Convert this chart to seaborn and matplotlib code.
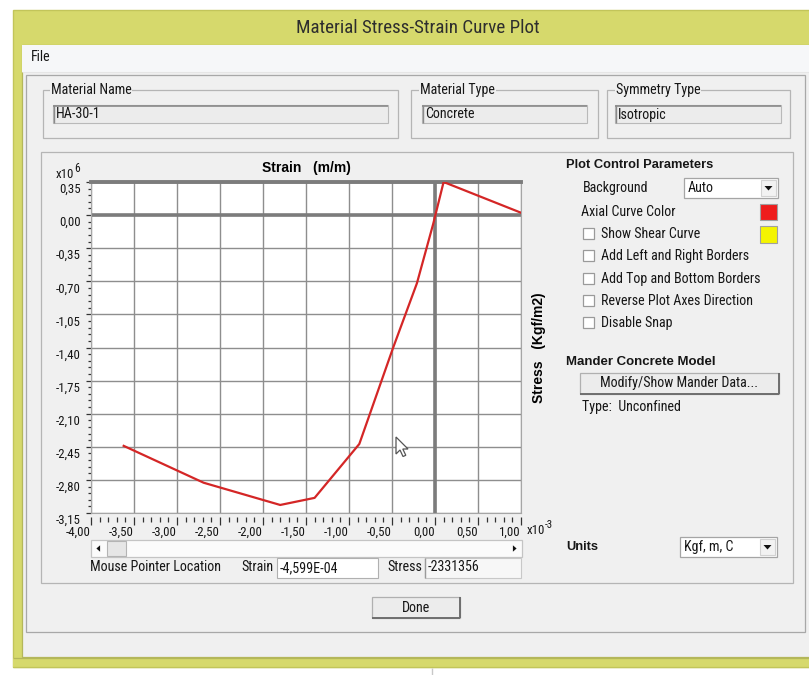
import matplotlib
matplotlib.use("Agg")
import matplotlib.pyplot as plt
import matplotlib.transforms as mtransforms
from matplotlib import font_manager as fm
from matplotlib.patches import Rectangle, Polygon
from matplotlib.ticker import MultipleLocator
import seaborn as sns
import pandas as pd

# ---------------- data (strain in 1e-3 m/m, stress in 1e6 Kgf/m2) ----------------
strain = [-3.62, -2.69, -1.80, -1.40, -0.88, -0.49, -0.21, -0.02, 0.10, 1.00]
stress = [-2.44, -2.83, -3.065, -2.99, -2.42, -1.41, -0.72, -0.09, 0.35, 0.025]
x_ticks = [-4.0, -3.5, -3.0, -2.5, -2.0, -1.5, -1.0, -0.5, 0.0, 0.5, 1.0]
x_tick_labels = ["-4,00", "-3,50", "-3,00", "-2,50", "-2,00", "-1,50", "-1,00",
                 "-0,50", "0,00", "0,50", "1,00"]
y_ticks = [0.35, 0.0, -0.35, -0.70, -1.05, -1.40, -1.75, -2.10, -2.45, -2.80, -3.15]
y_tick_labels = ["0,35", "0,00", "-0,35", "-0,70", "-1,05", "-1,40", "-1,75",
                 "-2,10", "-2,45", "-2,80", "-3,15"]
checkbox_labels = ["Show Shear Curve", "Add Left and Right Borders",
                   "Add Top and Bottom Borders", "Reverse Plot Axes Direction",
                   "Disable Snap"]

# ---------------- fonts: pick a narrow face if one is installed ----------------
_names = {f.name for f in fm.fontManager.ttflist}
if "Liberation Sans Narrow" in _names:
    NARROW, NS = ["Liberation Sans Narrow", "DejaVu Sans"], 1.0
elif "Roboto Condensed" in _names:
    NARROW, NS = ["Roboto Condensed", "DejaVu Sans"], 0.98
else:
    NARROW, NS = ["Liberation Sans", "DejaVu Sans"], 0.84
SANS = ["Liberation Sans", "DejaVu Sans"]

W, H = 809, 675
YEL = "#d6d96c"
CLIENT = "#f0f0f0"

fig = plt.figure(figsize=(W / 100, H / 100), dpi=100, facecolor="white")
bg = fig.add_axes([0, 0, 1, 1])
bg.set_xlim(0, W)
bg.set_ylim(H, 0)
bg.axis("off")


def rect(x0, y0, x1, y1, fc="none", ec="none", lw=1.0, z=1):
    bg.add_patch(Rectangle((x0, y0), x1 - x0, y1 - y0, facecolor=fc,
                           edgecolor=ec, linewidth=lw, zorder=z))


def line(xs, ys, c, lw=1.0, z=2):
    bg.plot(xs, ys, color=c, lw=lw, zorder=z, solid_capstyle="butt")


def txt(x, y, s, size=10.3, fam=None, weight="normal", ha="left", va="center",
        color="#161616", **kw):
    if fam is None:
        fam, size = NARROW, size * NS
    bg.text(x, y, s, fontsize=size, family=fam, fontweight=weight, ha=ha, va=va,
            color=color, zorder=5, **kw)


def tri(cx, cy, d, s=3.2):
    if d == "down":
        pts = [(cx - s, cy - s / 2), (cx + s, cy - s / 2), (cx, cy + s / 2 + 0.5)]
    elif d == "left":
        pts = [(cx + s / 2, cy - s), (cx + s / 2, cy + s), (cx - s / 2 - 0.5, cy)]
    else:
        pts = [(cx - s / 2, cy - s), (cx - s / 2, cy + s), (cx + s / 2 + 0.5, cy)]
    bg.add_patch(Polygon(pts, closed=True, facecolor="#111111", edgecolor="none", zorder=6))


def textbox(x0, y0, x1, y1, s, fc="#ececec"):
    rect(x0, y0, x1, y1, fc=fc, ec="#b9b9b9", lw=0.8, z=2)
    line([x0, x1], [y0 + 0.6, y0 + 0.6], "#8a8a8a", lw=1.2, z=3)
    line([x0 + 0.6, x0 + 0.6], [y0, y1], "#8a8a8a", lw=1.0, z=3)
    txt(x0 + 3, (y0 + y1) / 2 + 0.5, s)


def groupbox(x0, y0, x1, y1, label, lx):
    rect(x0, y0, x1, y1, ec="#b5b5b5", lw=0.9, z=2)
    txt(lx, y0, label, bbox=dict(facecolor=CLIENT, edgecolor="none", pad=0.5))


def button(x0, y0, x1, y1, s):
    rect(x0, y0, x1, y1, fc="#ececec", ec="#b0b0b0", lw=0.9, z=2)
    line([x0, x1], [y1, y1], "#6e6e6e", lw=1.4, z=3)
    line([x1, x1], [y0, y1], "#6e6e6e", lw=1.4, z=3)
    txt((x0 + x1) / 2, (y0 + y1) / 2, s, ha="center")


def combo(x0, y0, x1, y1, s):
    rect(x0, y0, x1, y1, fc="white", ec="#a5a5a5", lw=0.9, z=2)
    rect(x1 - 17, y0 + 2, x1 - 2, y1 - 2, fc="#f2f2f2", ec="#d2d2d2", lw=0.8, z=3)
    tri(x1 - 9.5, (y0 + y1) / 2, "down", s=4.0)
    txt(x0 + 4, (y0 + y1) / 2, s)


# ---------------- window chrome ----------------
rect(13, 10, W + 2, 667, fc=YEL, ec="#c2c55a", lw=1.0, z=0)
rect(22, 45, W + 2, 657, fc=CLIENT, ec="#b4b75a", lw=0.9, z=0.5)
rect(13.5, 657.5, W + 2, 666.5, fc=YEL, ec="none", z=0.7)
line([13, W], [657.5, 657.5], "#b4b75a", lw=0.9, z=0.8)
line([13, W], [666.8, 666.8], "#c2c55a", lw=0.9, z=0.8)
rect(22.5, 45, W + 2, 72, fc="#f6f7f9", z=0.6)
line([22, W], [72, 72], "#e6e6e6", lw=0.8)
line([432, 432], [667.5, 675], "#c8c8c8", lw=1.0)
txt(418, 28, "Material Stress-Strain Curve Plot", size=14, ha="center", color="#2e2e2e")
txt(31, 57, "File")

# sunken panel
rect(26, 75, 805, 632, ec="#a8a8a8", lw=0.9, z=1)

# material info group boxes
groupbox(43, 90, 398, 138, "Material Name", 51)
textbox(53, 105, 388, 123, "HA-30-1")
groupbox(411, 90, 598, 138, "Material Type", 420)
textbox(422, 105, 587, 123, "Concrete")
groupbox(607, 90, 790, 138, "Symmetry Type", 616)
textbox(615, 105, 781, 123, "Isotropic")

# plot group box
rect(41, 152, 793, 583, ec="#b5b5b5", lw=0.9, z=1)

# right control panel
txt(566, 165, "Plot Control Parameters", size=9.3, fam=SANS, weight="bold")
txt(583, 188, "Background")
combo(684, 178, 778, 198, "Auto")
txt(581, 212, "Axial Curve Color")
rect(760, 204, 777, 220, fc="#ee1c1c", ec="#a0a0a0", lw=0.8, z=2)
rect(760, 226, 777, 243, fc="#f4f400", ec="#a0a0a0", lw=0.8, z=2)
for i, lab in enumerate(checkbox_labels):
    yy = [234, 256, 279, 301, 323][i]
    rect(583, yy - 6, 594, yy + 5, fc="white", ec="#9a9a9a", lw=0.9, z=2)
    txt(601, yy, lab)
txt(566, 362, "Mander Concrete Model", size=9.5, fam=SANS, weight="bold")
button(580, 373, 779, 394, "Modify/Show Mander Data...")
txt(582, 407, "Type:  Unconfined")

# bottom controls
rect(91, 540, 522, 557, fc="#fbfbfb", ec="#c4c4c4", lw=0.9, z=2)
rect(107, 541, 126, 556, fc="#e6e6e6", ec="#b4b4b4", lw=0.8, z=3)
tri(98.5, 548.5, "left")
tri(514.5, 548.5, "right")
txt(90, 567, "Mouse Pointer Location")
txt(241, 567, "Strain")
rect(277, 558, 378, 578, fc="white", ec="#b0b0b0", lw=0.8, z=2)
txt(280, 568, "-4,599E-04")
txt(387, 567, "Stress")
rect(425, 558, 521, 578, fc="#f7f7f7", ec="#c8c8c8", lw=0.8, z=2)
line([425.5, 425.5], [558, 578], "#9a9a9a", lw=1.0)
txt(428, 567, "-2331356")
txt(566, 547, "Units", size=9.3, fam=SANS, weight="bold")
combo(680, 537, 777, 557, "Kgf, m, C")
button(372, 597, 460, 618, "Done")

# axis multipliers
txt(56, 175, "x10", size=9.5)
txt(74.5, 169, "6", size=8.5)
txt(527, 531, "x10", size=9.5)
txt(545, 525, "-3", size=8)

# ---------------- the plot ----------------
ax = fig.add_axes([91 / W, 1 - 513 / H, 430 / W, 331 / H])
ax.set_facecolor("white")
df = pd.DataFrame({"strain": strain, "stress": stress})
sns.lineplot(data=df, x="strain", y="stress", ax=ax, sort=False, estimator=None,
             color="#d42626", lw=1.6, zorder=5)
ax.set_xlim(-4.0, 1.0)
ax.set_ylim(-3.15, 0.35)

ax.set_xticks(x_ticks)
ax.set_yticks(y_ticks, labels=y_tick_labels)
ax.yaxis.set_minor_locator(MultipleLocator(0.07))
ax.grid(True, which="major", color="#8e8e8e", lw=1.0, zorder=1)
ax.axhline(0, color="#7c7c7c", lw=2.6, zorder=2)
ax.axvline(0, color="#7c7c7c", lw=2.6, zorder=2)
for s in ["left", "right", "bottom"]:
    ax.spines[s].set_color("#a6a6a6")
    ax.spines[s].set_linewidth(0.8)
ax.spines["top"].set_color("#7c7c7c")
ax.spines["top"].set_linewidth(2.8)
ax.tick_params(axis="x", which="both", bottom=False, labelbottom=False)
ax.tick_params(axis="y", which="major", direction="out", length=3.6, width=0.9,
               color="#333333", pad=4, labelsize=9.5 * NS, labelcolor="#161616")
ax.tick_params(axis="y", which="minor", direction="out", length=2.2, width=0.9,
               color="#333333")
ax.set_xlabel("")
ax.set_ylabel("Stress   (Kgf/m2)", fontsize=10, fontweight="bold", family=SANS,
              rotation=90, labelpad=8)
ax.yaxis.set_label_position("right")
ax.set_title("Strain   (m/m)", fontsize=10, fontweight="bold", family=SANS, pad=7)
for lbl in ax.get_yticklabels():
    lbl.set_fontfamily(NARROW)
    lbl.set_transform(lbl.get_transform() +
                      mtransforms.ScaledTranslation(0, -0.06, fig.dpi_scale_trans))

sx = ax.secondary_xaxis(-4 / 331)
sx.set_xticks(x_ticks, labels=x_tick_labels)
sx.xaxis.set_minor_locator(MultipleLocator(0.1))
sx.spines["bottom"].set_visible(False)
sx.tick_params(which="major", direction="out", length=5.8, width=0.9,
               color="#333333", pad=0.5, labelsize=9.5 * NS, labelcolor="#161616")
sx.tick_params(which="minor", direction="out", length=3.6, width=0.9, color="#333333")
for lbl in sx.get_xticklabels():
    lbl.set_fontfamily(NARROW)
    lbl.set_horizontalalignment("right")

# mouse cursor
cx, cy = 396, 437
cur = [(0, 0), (0, 17), (4, 13), (7, 19.5), (9.8, 18.3), (6.8, 12), (12, 12)]
fig.add_artist(Polygon([(cx + a, cy + b) for a, b in cur], closed=True,
                       facecolor="white", edgecolor="#555555", lw=0.9,
                       transform=bg.transData, zorder=10))

fig.savefig("out.png", dpi=100, facecolor="white")
